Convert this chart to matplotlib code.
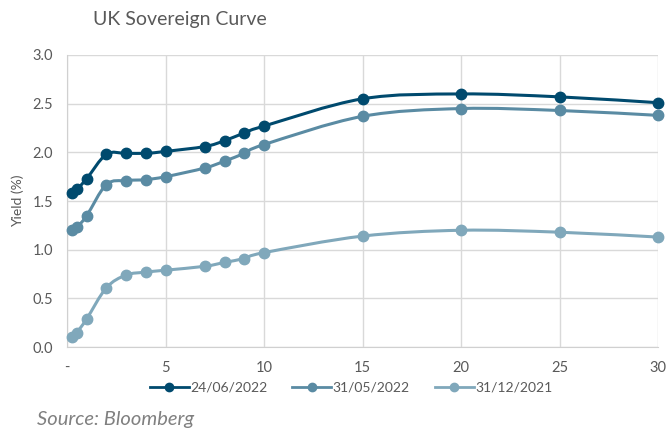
import numpy as np
import matplotlib
matplotlib.use("Agg")
import matplotlib.pyplot as plt
from matplotlib.path import Path
from matplotlib.patches import PathPatch

plt.rcParams['font.family'] = ['Lato', 'DejaVu Sans']

# maturities (years)
tenors = [0.25, 0.5, 1, 2, 3, 4, 5, 7, 8, 9, 10, 15, 20, 25, 30]
jun22 = [1.58, 1.62, 1.73, 1.98, 1.99, 1.99, 2.01, 2.06, 2.12, 2.20, 2.27, 2.55, 2.60, 2.57, 2.51]
may22 = [1.20, 1.23, 1.35, 1.67, 1.71, 1.72, 1.75, 1.84, 1.91, 1.99, 2.08, 2.37, 2.45, 2.43, 2.38]
dec21 = [0.10, 0.15, 0.29, 0.61, 0.74, 0.77, 0.79, 0.83, 0.87, 0.91, 0.97, 1.14, 1.20, 1.18, 1.13]
labels = ["24/06/2022", "31/05/2022", "31/12/2021"]
colors = ["#004a6e", "#5a8ba3", "#80a8bb"]

xticks = [0, 5, 10, 15, 20, 25, 30]
xticklabels = ["-", "5", "10", "15", "20", "25", "30"]
yticks = [0.0, 0.5, 1.0, 1.5, 2.0, 2.5, 3.0]


def smooth_path(x, y):
    # excel style smoothed line: bezier segments through the points
    x = np.asarray(x, float)
    y = np.asarray(y, float)
    pts = np.column_stack([x, y])
    verts = [pts[0]]
    codes = [Path.MOVETO]
    n = len(pts)
    for i in range(n - 1):
        p0 = pts[i - 1] if i > 0 else pts[i]
        p1 = pts[i]
        p2 = pts[i + 1]
        p3 = pts[i + 2] if i + 2 < n else pts[i + 1]
        c1 = p1 + (p2 - p0) / 6.0
        c2 = p2 - (p3 - p1) / 6.0
        verts += [c1, c2, p2]
        codes += [Path.CURVE4] * 3
    return Path(verts, codes)


fig = plt.figure(figsize=(6.66, 4.28), dpi=100)
ax = fig.add_axes([0.1006, 0.189, 0.8874, 0.6825])

for ys, lab, c in zip([jun22, may22, dec21], labels, colors):
    patch = PathPatch(smooth_path(tenors, ys), facecolor="none", edgecolor=c, lw=2.2,
                      zorder=3, clip_on=False)
    ax.add_patch(patch)
    ax.plot(tenors, ys, "o", color=c, ms=7.5, label=lab, zorder=4, clip_on=False)

ax.set_xlim(0, 30)
ax.set_ylim(0, 3.0)
ax.set_xticks(xticks)
ax.set_xticklabels(xticklabels)
ax.set_yticks(yticks)
ax.set_yticklabels(["%.1f" % v for v in yticks])
ax.grid(True, color="#d9d9d9", lw=1.0)
ax.set_axisbelow(True)
for s in ["top", "right"]:
    ax.spines[s].set_visible(False)
for s in ["left", "bottom"]:
    ax.spines[s].set_color("#d0d0d0")
ax.tick_params(length=0, colors="#595959", labelsize=10.5, pad=10)
ax.set_ylabel("Yield (%)", fontsize=10, color="#595959", labelpad=6)

# legend with line + marker
handles = [plt.Line2D([], [], color=c, lw=2.0, marker="o", ms=6) for c in colors]
fig.legend(handles, labels, loc="center", bbox_to_anchor=(0.527, 0.094), ncol=3,
           frameon=False, fontsize=10, labelcolor="#595959", handlelength=2.8,
           handletextpad=0.1, columnspacing=1.8)

fig.text(0.14, 0.955, "UK Sovereign Curve", fontsize=14, color="#595959", va="center")
fig.text(0.055, 0.006, "Source: Bloomberg", fontsize=14.5, color="#808080", style="italic")

fig.savefig("out.png", dpi=100)
